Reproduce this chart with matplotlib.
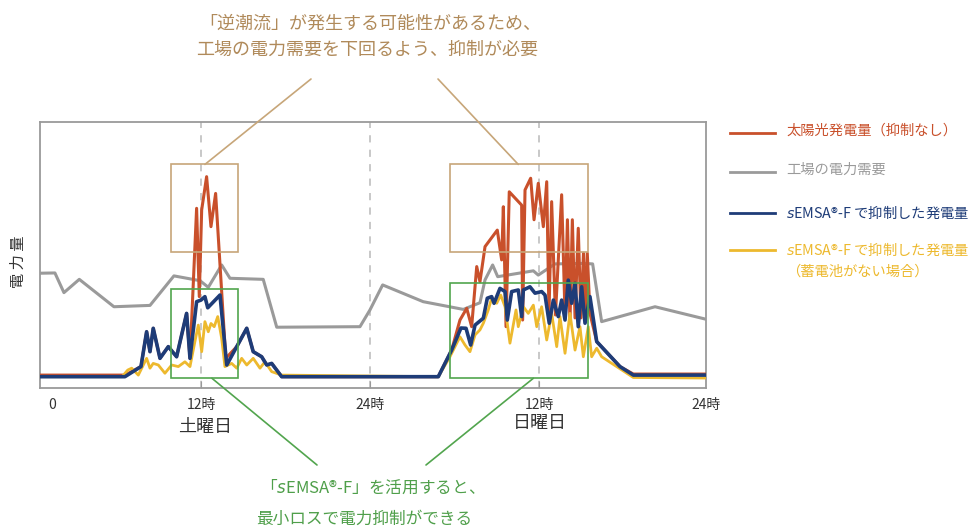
import matplotlib
matplotlib.use("Agg")
import matplotlib.pyplot as plt
from matplotlib.lines import Line2D
from matplotlib.patches import Rectangle

plt.rcParams["font.family"] = ["Noto Sans CJK JP", "DejaVu Sans"]

# time axis: hours over two days (Sat 0-24, Sun 24-48); power in relative units
solar_t = [0.57, 6.60, 7.74, 8.14, 8.38, 8.61, 9.09, 9.68, 10.27, 10.98, 11.22, 11.69, 11.88,
           12.05, 12.40, 12.71, 13.04, 13.76, 14.54, 15.25, 15.71, 16.31, 16.67, 17.02, 17.73,
           28.85, 29.80, 30.39, 30.87, 31.22, 31.58, 31.81, 32.17, 33.04, 33.35,
           33.47, 33.66, 33.89, 34.77, 34.84, 35.01, 35.41, 35.65, 35.95, 36.31,
           36.55, 36.71, 36.90, 37.17, 37.61, 37.85, 38.02, 38.20, 38.37, 38.56,
           38.79, 38.98, 39.16, 39.30, 39.43, 39.62, 40.10, 41.75, 42.70, 47.86]
solar_v = [0.6, 0.6, 3.8, 16.9, 9.4, 18.2, 6.9, 11.3, 7.5, 23.8, 6.9, 63.3, 30.1,
           62.7, 75.2, 56.4, 68.9, 6.9, 11.3, 18.2, 9.4, 7.5, 4.4, 5.0, 0.0,
           0.0, 10.0, 21.3, 25.7, 18.8, 41.4, 35.7, 48.9, 55.1, 43.9,
           63.9, 18.8, 69.5, 64.5, 21.3, 70.2, 74.6, 59.0, 72.7, 56.4,
           73.3, 23.2, 65.8, 23.2, 68.4, 23.2, 59.0, 20.2, 59.0, 22.1,
           55.8, 22.1, 46.4, 21.3, 46.4, 23.8, 13.2, 3.8, 1.0, 1.0]

demand_t = [0.57, 1.63, 2.27, 3.36, 5.82, 8.38, 10.08, 11.93, 12.52, 13.47,
            14.06, 16.42, 17.38, 23.29, 24.00, 24.90, 27.78, 30.63, 31.81, 32.17,
            32.71, 33.07, 35.60, 35.95, 37.14, 39.15, 39.81, 40.45, 44.24, 47.86]
demand_v = [38.9, 39.0, 31.6, 36.6, 26.3, 26.8, 37.9, 36.1, 33.6, 42.0,
            37.0, 36.6, 18.6, 18.8, 25.1, 34.5, 28.2, 25.3, 27.8, 36.4,
            42.0, 37.6, 39.8, 38.2, 42.4, 42.6, 42.4, 20.7, 26.3, 21.6]

semsa_t = [0.57, 6.60, 7.74, 8.14, 8.38, 8.61, 9.09, 9.68, 10.27, 10.98,
           11.22, 11.69, 12.00, 12.28, 12.48, 13.35, 13.83, 14.54, 15.25, 15.71,
           16.31, 16.67, 17.02, 17.73,
           28.85, 29.80, 30.46, 30.82, 31.15, 31.46, 32.05, 32.33, 32.64, 32.81,
           33.23, 33.59, 33.75, 34.06, 34.53, 34.77, 34.89, 35.36, 35.72, 36.19,
           36.43, 36.73, 37.02, 37.37, 37.61, 37.85, 38.08, 38.32, 38.56, 38.79,
           39.03, 39.27, 39.62, 40.10, 41.75, 42.70, 47.86]
semsa_v = [0.0, 0.0, 3.8, 16.9, 9.4, 18.2, 6.9, 11.3, 7.5, 23.8,
           6.9, 28.2, 28.8, 30.1, 25.9, 30.7, 4.4, 11.3, 18.2, 9.4,
           7.5, 4.4, 5.0, 0.0,
           0.0, 10.0, 18.3, 18.2, 11.9, 19.4, 22.0, 29.5, 30.1, 27.6,
           33.2, 32.0, 21.3, 32.0, 32.6, 22.6, 32.6, 33.8, 31.4, 32.0,
           30.7, 20.1, 28.8, 22.6, 28.8, 21.3, 36.3, 27.6, 35.1, 18.8,
           33.8, 20.1, 30.1, 13.2, 3.8, 0.6, 0.6]

nobatt_t = [0.57, 6.40, 6.80, 7.08, 7.55, 8.14, 8.38, 8.61, 8.97, 9.44, 9.92,
            10.39, 10.86, 11.22, 11.57, 11.81, 12.05, 12.28, 12.52, 12.71, 12.94,
            13.19, 13.47, 13.70, 14.18, 14.54, 14.89, 15.25, 15.71, 16.19, 16.54,
            17.02, 17.73,
            28.85, 29.68, 30.39, 30.75, 31.10, 31.46, 31.81, 32.05, 32.40, 32.64,
            33.00, 33.28, 33.59, 33.94, 34.37, 34.53, 34.89, 35.24, 35.60, 35.84,
            36.19, 36.55, 36.90, 37.26, 37.49, 37.85, 38.20, 38.56, 38.91, 39.15,
            39.50, 39.74, 40.10, 40.45, 42.70, 47.86]
nobatt_v = [0.0, 0.0, 2.5, 3.2, 0.6, 6.9, 3.2, 5.0, 4.4, 1.3, 4.4,
            3.8, 5.6, 3.8, 13.2, 19.4, 9.4, 20.7, 16.9, 20.0, 18.8,
            22.6, 14.4, 3.8, 5.0, 3.2, 6.9, 4.4, 6.9, 3.2, 5.6,
            1.9, 0.6,
            0.0, 7.5, 15.0, 11.9, 9.4, 15.7, 17.6, 20.1, 25.1, 29.5,
            27.6, 30.7, 26.3, 12.6, 25.1, 18.8, 26.3, 23.8, 26.9, 18.8,
            26.3, 13.8, 23.8, 11.3, 22.6, 8.8, 23.8, 10.0, 18.8, 7.5,
            18.8, 7.5, 10.7, 7.5, -0.3, -0.5]

tick_pos = [1.42, 12, 24, 36, 47.86]
tick_labels = ["0", "12時", "24時", "12時", "24時"]
day_labels = ["土曜日", "日曜日"]

# highlight boxes (hours, relative power)
over_boxes = [(9.85, 14.63, 46.8, 79.8), (29.68, 39.50, 46.8, 79.8)]
cut_boxes = [(9.85, 14.63, -0.6, 32.9), (29.68, 39.50, -0.6, 35.3)]

RED = "#c9502b"
GRAY = "#9a9a9a"
NAVY = "#1e3c78"
YELLOW = "#edb92e"
TAN = "#c7a679"
GREEN = "#52a54e"
SEMSA = r"$\it{s}$EMSA®-F"

W, H = 977, 532
fig = plt.figure(figsize=(W / 100, H / 100), dpi=100)
ax = fig.add_axes([40 / W, 1 - 388 / H, 666 / W, 266 / H])


def fx(px):
    return px / W


def fy(py):
    return 1 - py / H


for h in [12, 24, 36]:
    ax.axvline(h, color="#c4c4c4", lw=1.3, ls=(0, (4, 4)), zorder=1)

ax.plot(demand_t, demand_v, color=GRAY, lw=2.2, zorder=2)
ax.plot(solar_t, solar_v, color=RED, lw=2.2, zorder=3)
ax.plot(nobatt_t, nobatt_v, color=YELLOW, lw=2.0, zorder=4)
ax.plot(semsa_t, semsa_v, color=NAVY, lw=2.6, zorder=5)

for x0, x1, y0, y1 in over_boxes:
    ax.add_patch(Rectangle((x0, y0), x1 - x0, y1 - y0, fill=False, ec=TAN, lw=1.2, zorder=6))
for x0, x1, y0, y1 in cut_boxes:
    ax.add_patch(Rectangle((x0, y0), x1 - x0, y1 - y0, fill=False, ec=GREEN, lw=1.2, zorder=6))

ax.set_xlim(0.57, 47.86)
ax.set_ylim(-4.25, 95.75)
ax.set_yticks([])
ax.set_xticks(tick_pos)
ax.set_xticklabels(tick_labels)
ax.tick_params(axis="x", direction="in", length=5, color="#999999", labelsize=10,
               labelcolor="#333333", pad=7)
for t in (ax.xaxis.get_major_ticks()[0], ax.xaxis.get_major_ticks()[-1]):
    t.tick1line.set_visible(False)
for s in ax.spines.values():
    s.set_color("#9a9a9a")
    s.set_linewidth(1.3)

# callout lines from boxes to captions
conn = [((12.28, 79.8), (311, 79), TAN), ((34.53, 79.8), (438, 79), TAN),
        ((12.78, -0.6), (317, 465), GREEN), ((35.60, -0.6), (426, 465), GREEN)]
for (hx, hv), (px, py), c in conn:
    ax.annotate("", xy=(fx(px), fy(py)), xycoords="figure fraction", xytext=(hx, hv),
                textcoords="data", annotation_clip=False,
                arrowprops=dict(arrowstyle="-", color=c, lw=1.2, shrinkA=0, shrinkB=0))

fig.text(fx(370), fy(24), "「逆潮流」が発生する可能性があるため、", ha="center", va="center",
         fontsize=13, color="#b08a5a")
fig.text(fx(367), fy(50), "工場の電力需要を下回るよう、抑制が必要", ha="center", va="center",
         fontsize=13, color="#b08a5a")
fig.text(fx(368), fy(488), "「" + SEMSA + "」を活用すると、", ha="center", va="center",
         fontsize=12, color="#4f9f4a")
fig.text(fx(364), fy(519), "最小ロスで電力抑制ができる", ha="center", va="center",
         fontsize=12, color="#4f9f4a")

fig.text(fx(205), fy(427), day_labels[0], ha="center", va="center", fontsize=13, color="#333333")
fig.text(fx(540), fy(423), day_labels[1], ha="center", va="center", fontsize=13, color="#333333")
fig.text(fx(18), fy(262), "電 力 量", ha="center", va="center", rotation=90, fontsize=11,
         color="#333333")

# legend
legend_rows = [("太陽光発電量（抑制なし）", RED, 133),
               ("工場の電力需要", GRAY, 172),
               (SEMSA + " で抑制した発電量", NAVY, 213),
               (SEMSA + " で抑制した発電量\n（蓄電池がない場合）", YELLOW, 250)]
for label, c, py in legend_rows:
    fig.add_artist(Line2D([fx(730), fx(775)], [fy(py), fy(py)], color=c, lw=2.0))
    fig.text(fx(786), fy(py - 9), label, ha="left", va="top", fontsize=10.3, color=c,
             linespacing=1.55)

fig.savefig("out.png", dpi=100)
